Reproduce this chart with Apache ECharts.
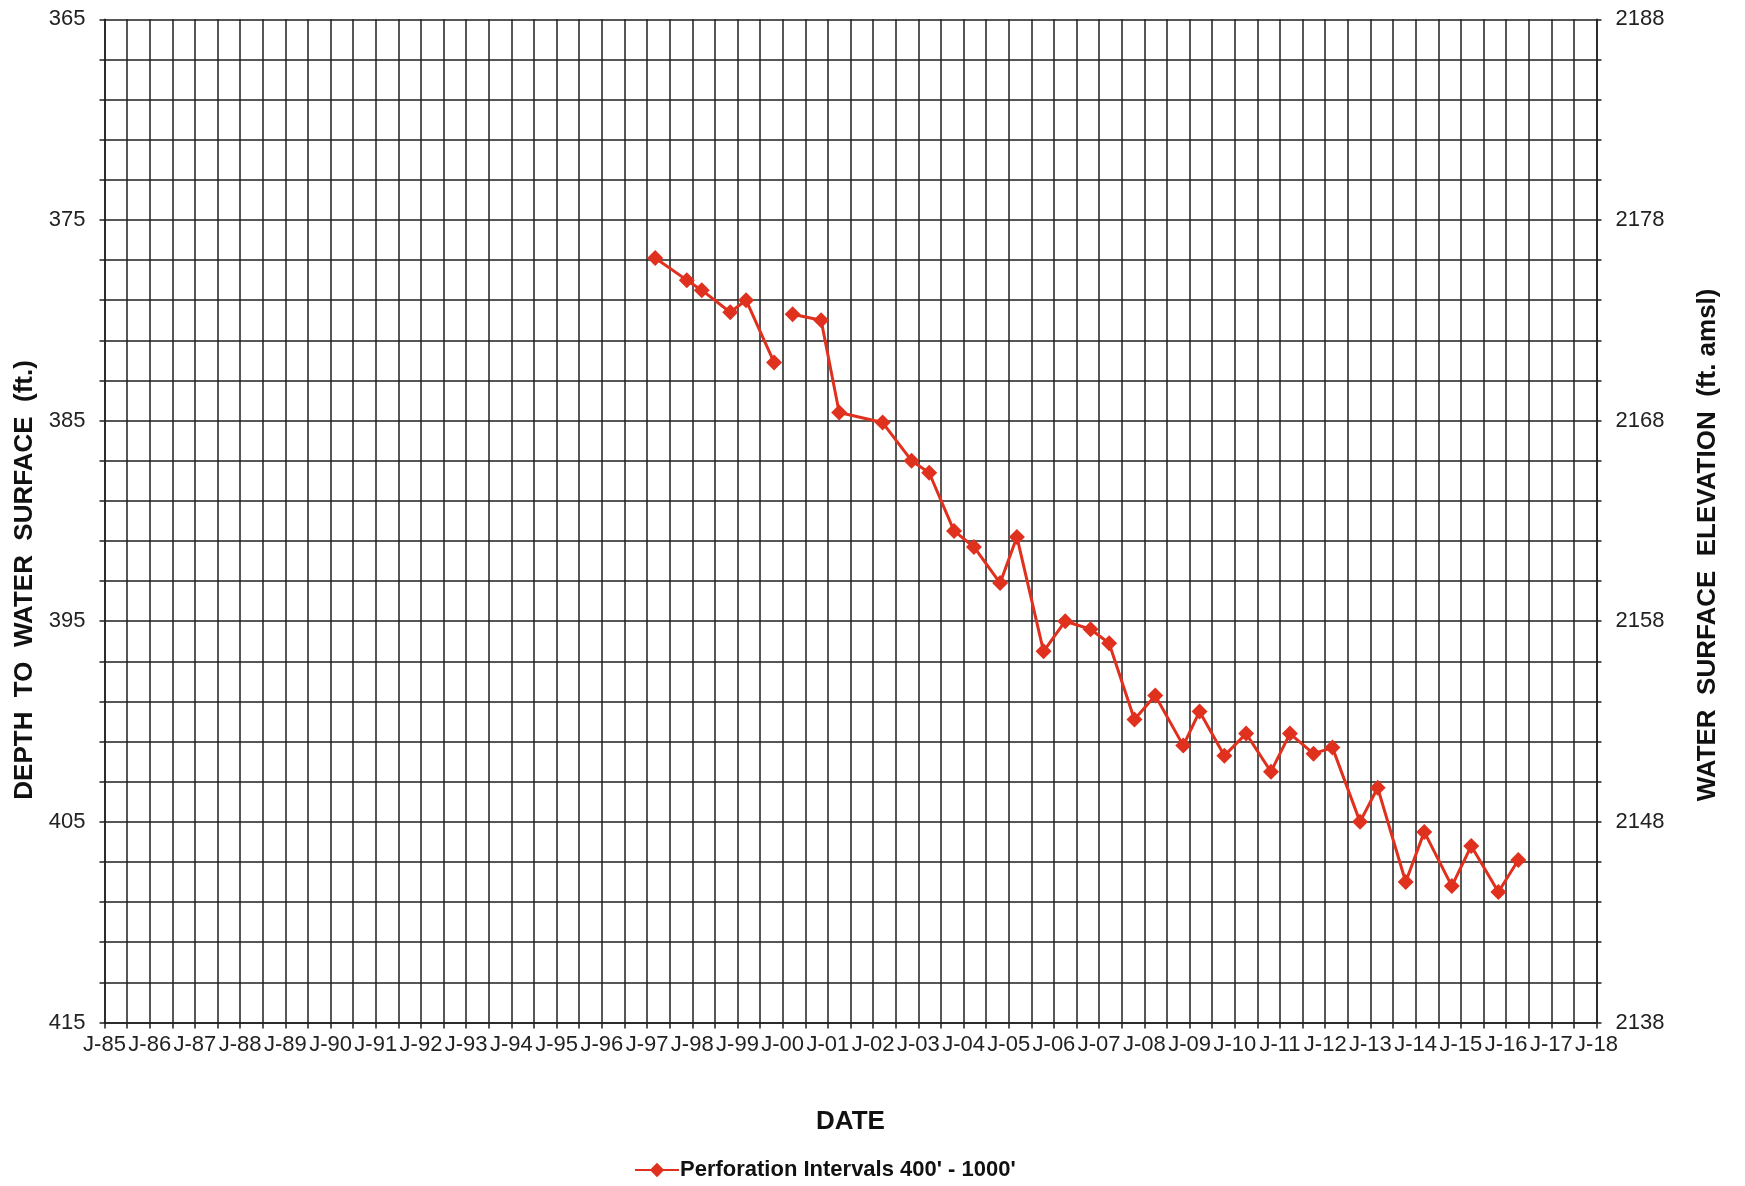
<!DOCTYPE html>
<html>
<head>
<meta charset="utf-8">
<script src="https://cdn.jsdelivr.net/npm/echarts@6/dist/echarts.min.js"></script>
<style>
html,body{margin:0;padding:0;background:#fff;}
#chart{width:1745px;height:1186px;}
</style>
</head>
<body>
<div id="chart"></div>
<script>
// Decimal-year dates of measurements (null depth = gap in record)
const dates = [1997.18, 1997.88, 1998.21, 1998.84, 1999.19, 1999.81, 2000.0,
  2000.22, 2000.85, 2001.25, 2002.21, 2002.85, 2003.24, 2003.79, 2004.23, 2004.81,
  2005.18, 2005.77, 2006.25, 2006.81, 2007.22, 2007.78, 2008.24, 2008.86, 2009.22,
  2009.77, 2010.25, 2010.80, 2011.22, 2011.74, 2012.16, 2012.77, 2013.16, 2013.78,
  2014.19, 2014.80, 2015.23, 2015.83, 2016.27];
// Depth to water surface (ft.)
const depths = [376.9, 378.0, 378.5, 379.6, 379.0, 382.1, null,
  379.7, 380.0, 384.6, 385.1, 387.0, 387.6, 390.5, 391.3, 393.1,
  390.8, 396.5, 395.0, 395.4, 396.1, 399.9, 398.7, 401.2, 399.5,
  401.7, 400.6, 402.5, 400.6, 401.6, 401.3, 405.0, 403.3, 408.0,
  405.5, 408.2, 406.2, 408.5, 406.9];
const seriesName = "Perforation Intervals 400' - 1000'";
// Axis ranges / tick labels
const yearMin = 1985, yearMax = 2018;
const depthMin = 365, depthMax = 415;
const elevMin = 2138, elevMax = 2188;

const FONT = "'Liberation Sans', Arial, Helvetica, sans-serif";
const GRID_COLOR = '#1f1f1f';
const RED = '#E0301E';

const chart = echarts.init(document.getElementById('chart'), null, {renderer: 'canvas'});
const data = dates.map((d, i) => [d, depths[i] === null ? '-' : depths[i]]);

chart.setOption({
  backgroundColor: '#ffffff',
  animation: false,
  grid: {left: 104.5, right: 148.5, top: 19.3, bottom: 163.5, containLabel: false},
  legend: {
    left: 629, top: 1154,
    itemWidth: 44, itemHeight: 18, itemGap: 10,
    textStyle: {fontFamily: FONT, fontSize: 22, fontWeight: 'bold', color: '#111', padding: [0,0,0,-4]},
    data: [seriesName]
  },
  xAxis: {
    type: 'value', min: yearMin, max: yearMax, interval: 0.5,
    name: 'DATE', nameLocation: 'middle', nameGap: 86,
    nameTextStyle: {fontFamily: FONT, fontSize: 26, fontWeight: 'bold', color: '#111'},
    axisLine: {show: true, lineStyle: {color: GRID_COLOR, width: 1.5}},
    axisTick: {show: true, length: 6, lineStyle: {color: GRID_COLOR, width: 1.5}},
    axisLabel: {
      fontFamily: FONT, fontSize: 22, color: '#222', margin: 11,
      hideOverlap: false, showMinLabel: true, showMaxLabel: true,
      formatter: v => Number.isInteger(v) ? 'J-' + String(v % 100).padStart(2, '0') : ''
    },
    splitLine: {show: true, lineStyle: {color: GRID_COLOR, width: 1.5}}
  },
  yAxis: [{
    type: 'value', min: depthMin, max: depthMax, interval: 2, inverse: true, position: 'left',
    name: 'DEPTH  TO  WATER  SURFACE  (ft.)', nameLocation: 'middle', nameGap: 66, nameRotate: 90,
    nameTextStyle: {fontFamily: FONT, fontSize: 26, fontWeight: 'bold', color: '#111', padding: [0, 118, 0, 0]},
    axisLine: {show: true, lineStyle: {color: GRID_COLOR, width: 1.5}},
    axisTick: {show: true, length: 5, lineStyle: {color: GRID_COLOR, width: 1.5}},
    axisLabel: {
      fontFamily: FONT, fontSize: 22, color: '#222', margin: 19,
      formatter: v => ((v - depthMin) % 10 === 0 ? String(v) : '')
    },
    splitLine: {show: true, lineStyle: {color: GRID_COLOR, width: 1.5}}
  }, {
    type: 'value', min: elevMin, max: elevMax, interval: 2, position: 'right',
    name: 'WATER  SURFACE  ELEVATION  (ft. amsl)', nameLocation: 'middle', nameGap: 98, nameRotate: 90,
    nameTextStyle: {fontFamily: FONT, fontSize: 26, fontWeight: 'bold', color: '#111', padding: [0, 48, 0, 0]},
    axisLine: {show: true, lineStyle: {color: GRID_COLOR, width: 1.5}},
    axisTick: {show: true, length: 5, lineStyle: {color: GRID_COLOR, width: 1.5}},
    axisLabel: {
      fontFamily: FONT, fontSize: 22, color: '#222', margin: 19,
      formatter: v => ((elevMax - v) % 10 === 0 ? String(v) : '')
    },
    splitLine: {show: false}
  }],
  series: [{
    name: seriesName, type: 'line', yAxisIndex: 0,
    data: data, connectNulls: false,
    symbol: 'diamond', symbolSize: 16, showSymbol: true,
    lineStyle: {color: RED, width: 3},
    itemStyle: {color: RED},
    z: 5
  }]
});
</script>
</body>
</html>
